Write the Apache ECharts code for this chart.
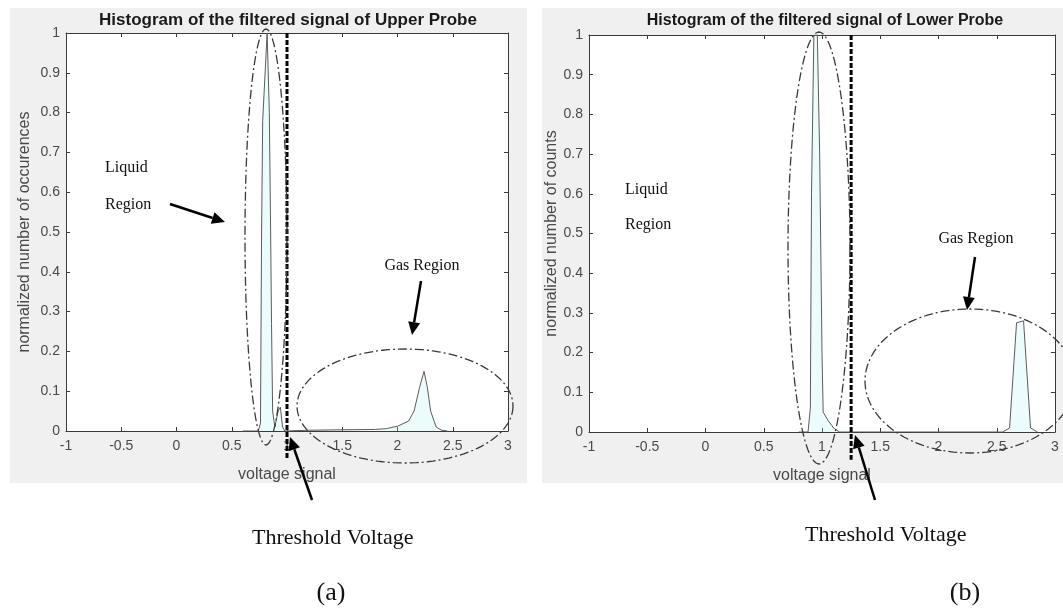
<!DOCTYPE html>
<html>
<head>
<meta charset="utf-8">
<script src="https://cdn.jsdelivr.net/npm/echarts@6/dist/echarts.min.js"></script>
<style>html,body{margin:0;padding:0;background:#fff;}#c{width:1063px;height:609px;}</style>
</head>
<body>
<div id="c"></div>
<script>
// ---------- data ----------
const titleA = 'Histogram of the filtered signal of Upper Probe';
const titleB = 'Histogram of the filtered signal of Lower Probe';
const yNameA = 'normalized number of occurences';
const yNameB = 'normalized number of counts';
const xName = 'voltage signal';
const xMin = -1, xMax = 3, xStep = 0.5;
const yMin = 0, yMax = 1, yStep = 0.1;

const upperX = [0.60, 0.74, 0.76, 0.77, 0.78, 0.82, 0.84, 0.85, 0.86, 0.87, 0.89, 0.92, 0.94, 0.96, 0.98,
                1.20, 1.50, 1.80, 1.90, 2.00, 2.10, 2.15, 2.20, 2.24, 2.27, 2.30, 2.35, 2.40, 2.45];
const upperY = [0, 0, 0.02, 0.50, 0.78, 1.00, 0.80, 0.55, 0.27, 0.05, 0.01, 0.05, 0.06, 0.01, 0,
                0.002, 0.003, 0.004, 0.006, 0.012, 0.025, 0.05, 0.11, 0.15, 0.11, 0.05, 0.01, 0.002, 0];
const lowerX = [0.80, 0.88, 0.89, 0.90, 0.91, 0.93, 0.96, 0.98, 1.00, 1.01, 1.05, 1.10, 1.15,
                2.55, 2.61, 2.67, 2.73, 2.79, 2.85];
const lowerY = [0, 0, 0.03, 0.06, 0.60, 1.00, 1.00, 0.70, 0.20, 0.05, 0.03, 0.01, 0,
                0, 0.01, 0.275, 0.28, 0.01, 0];
const thresholdA = 1.0;
const thresholdB = 1.25;

// ---------- chart ----------
const chart = echarts.init(document.getElementById('c'));
const pair = (xs, ys) => xs.map((x, i) => [x, ys[i]]);
const sans = 'Liberation Sans, Arial, sans-serif';
const serif = 'Liberation Serif, Times New Roman, serif';
const axisCol = '#3a3a3a';
const labCol = '#4a4a4a';

function xAxes(gi) {
  return [
    {gridIndex: gi, type: 'value', min: xMin, max: xMax, interval: xStep, position: 'bottom',
     name: xName, nameLocation: 'middle', nameGap: 36,
     nameTextStyle: {fontFamily: sans, fontSize: 16, color: labCol},
     axisLine: {onZero: false, lineStyle: {color: axisCol, width: 1}},
     axisTick: {inside: true, length: 4, lineStyle: {color: axisCol}},
     axisLabel: {fontFamily: sans, fontSize: 14, color: labCol, margin: 8},
     splitLine: {show: false}},
    {gridIndex: gi, type: 'value', min: xMin, max: xMax, interval: xStep, position: 'top',
     axisLine: {onZero: false, lineStyle: {color: axisCol, width: 1}},
     axisTick: {inside: true, length: 4, lineStyle: {color: axisCol}},
     axisLabel: {show: false}, splitLine: {show: false}}
  ];
}
function yAxes(gi, name, gap) {
  return [
    {gridIndex: gi, type: 'value', min: yMin, max: yMax, interval: yStep, position: 'left',
     name: name, nameLocation: 'middle', nameGap: gap,
     nameTextStyle: {fontFamily: sans, fontSize: 16, color: labCol},
     axisLine: {show: true, onZero: false, lineStyle: {color: axisCol, width: 1}},
     axisTick: {show: true, inside: true, length: 4, lineStyle: {color: axisCol}},
     axisLabel: {fontFamily: sans, fontSize: 14, color: labCol, margin: 6},
     splitLine: {show: false}},
    {gridIndex: gi, type: 'value', min: yMin, max: yMax, interval: yStep, position: 'right',
     axisLine: {show: true, onZero: false, lineStyle: {color: axisCol, width: 1}},
     axisTick: {show: true, inside: true, length: 4, lineStyle: {color: axisCol}},
     axisLabel: {show: false}, splitLine: {show: false}}
  ];
}

function histSeries(xi, yi, data) {
  return {type: 'line', xAxisIndex: xi, yAxisIndex: yi, data: data, showSymbol: false, symbol: 'none',
    lineStyle: {color: '#5c5c5c', width: 1}, areaStyle: {color: 'rgba(175,238,238,0.35)'},
    z: 3, silent: true, animation: false};
}
function threshSeries(xi, yi, t) {
  return {type: 'line', xAxisIndex: xi, yAxisIndex: yi, data: [[t, 1], [t, -0.07]], clip: false,
    showSymbol: false, symbol: 'none',
    lineStyle: {color: '#000', width: 3, type: [5, 2]}, z: 5, silent: true, animation: false};
}

// annotation helpers (pixel-positioned callouts)
function ellipse(cx, cy, rx, ry) {
  const pts = [];
  for (let i = 0; i <= 120; i++) {
    const a = i / 120 * Math.PI * 2;
    pts.push([cx + rx * Math.cos(a), cy + ry * Math.sin(a)]);
  }
  return {type: 'polyline', shape: {points: pts}, silent: true, z: 20,
    style: {stroke: '#3a3a3a', lineWidth: 1.3, fill: null, lineDash: [9, 3, 2, 3]}};
}
function arrow(x1, y1, x2, y2) {
  const ang = Math.atan2(y2 - y1, x2 - x1);
  const L = 13, W = 6;
  const bx = x2 - L * Math.cos(ang), by = y2 - L * Math.sin(ang);
  const nx = -Math.sin(ang), ny = Math.cos(ang);
  return [
    {type: 'line', shape: {x1: x1, y1: y1, x2: bx, y2: by}, silent: true, z: 21,
     style: {stroke: '#000', lineWidth: 2.5}},
    {type: 'polygon', shape: {points: [[x2, y2], [bx + nx * W, by + ny * W], [bx - nx * W, by - ny * W]]},
     silent: true, z: 21, style: {fill: '#000'}}
  ];
}
function txt(x, y, s, size, align) {
  return {type: 'text', x: x, y: y, silent: true, z: 22,
    style: {text: s, font: size + 'px ' + serif, fill: '#111', align: align || 'left', verticalAlign: 'middle'}};
}

const graphics = [
  {type: 'rect', shape: {x: 10, y: 8, width: 517, height: 475}, style: {fill: '#f0f0f0'}, z: -10, silent: true},
  {type: 'rect', shape: {x: 542, y: 8, width: 521, height: 475}, style: {fill: '#f0f0f0'}, z: -10, silent: true},
  {type: 'text', x: 288, y: 20, silent: true, z: 10,
   style: {text: titleA, font: 'bold 17px ' + sans, fill: '#1a1a1a', align: 'center', verticalAlign: 'middle'}},
  {type: 'text', x: 825, y: 21, silent: true, z: 10,
   style: {text: titleB, font: 'bold 16px ' + sans, fill: '#1a1a1a', align: 'center', verticalAlign: 'middle'}},
  ellipse(266, 237, 21, 208),
  ellipse(405, 406, 108, 57),
  ellipse(819, 248, 31, 216),
  ellipse(970, 381, 105, 72),
  ...arrow(170, 204, 225, 222),
  ...arrow(421, 281, 412, 335),
  ...arrow(312, 500, 290, 437),
  ...arrow(975, 257, 967, 310),
  ...arrow(875, 500, 855, 435),
  txt(105, 168, 'Liquid', 16),
  txt(105, 205, 'Region', 16),
  txt(625, 190, 'Liquid', 16),
  txt(625, 225, 'Region', 16),
  txt(422, 266, 'Gas Region', 16, 'center'),
  txt(976, 239, 'Gas Region', 16, 'center'),
  txt(252, 538, 'Threshold Voltage', 22),
  txt(805, 535, 'Threshold Voltage', 22),
  txt(331, 593, '(a)', 26, 'center'),
  txt(965, 593, '(b)', 26, 'center')
];

chart.setOption({
  animation: false,
  backgroundColor: '#ffffff',
  grid: [
    {left: 66, top: 33, width: 442, height: 398, show: true, backgroundColor: '#ffffff', borderWidth: 0},
    {left: 589, top: 35, width: 466, height: 397, show: true, backgroundColor: '#ffffff', borderWidth: 0}
  ],
  xAxis: [...xAxes(0), ...xAxes(1)],
  yAxis: [...yAxes(0, yNameA, 33), ...yAxes(1, yNameB, 28)],
  series: [
    histSeries(0, 0, pair(upperX, upperY)),
    threshSeries(0, 0, thresholdA),
    histSeries(2, 2, pair(lowerX, lowerY)),
    threshSeries(2, 2, thresholdB)
  ],
  graphic: graphics
});
</script>
</body>
</html>
